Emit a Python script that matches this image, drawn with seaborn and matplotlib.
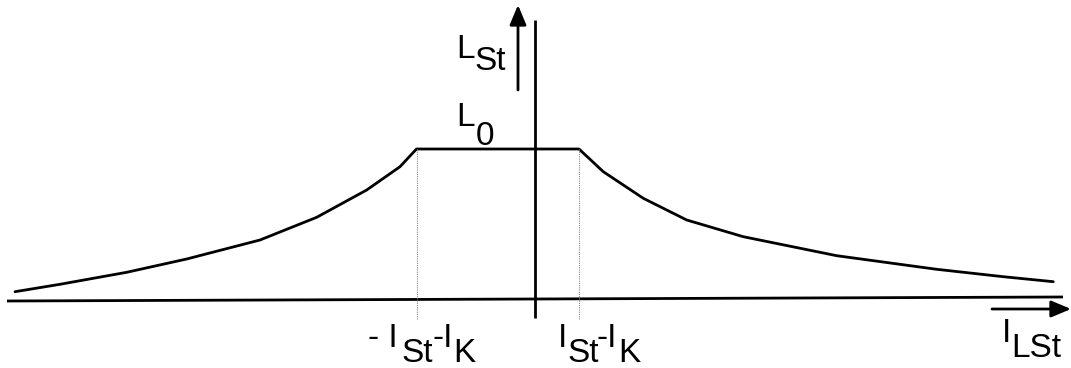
import matplotlib
matplotlib.use("Agg")
import matplotlib.pyplot as plt
import seaborn as sns
import pandas as pd

sns.set_theme(style="white")
plt.rcParams["font.family"] = ["Liberation Sans", "DejaVu Sans"]

# Inductance curve L_St(I_LSt), drawn in diagram units (x to the right, y downward)
curve_x = [15, 60, 126.7, 186.7, 260, 316.7, 366.7, 400, 416.5,
           579, 603.3, 643.3, 686.7, 743.3, 836.7, 936.7, 1003.3, 1053.3]
curve_y = [291.7, 284.3, 272.3, 259, 240, 217.3, 190, 166.7, 149,
           149, 171.7, 198.3, 220, 236.7, 255.7, 269.3, 276.7, 281.7]

# Knee positions (±(I_St - I_K)) and the plateau level L_0
knee_x = [416.5, 579]
plateau_y = 149
knee_bottom = 319

# Coordinate axes
h_axis_x = [7, 1063]
h_axis_y = [301, 297]
v_axis_x = [535, 535]
v_axis_y = [20, 318]

fig = plt.figure(figsize=(10.71, 3.68), dpi=100)
ax = fig.add_axes([0, 0, 1, 1])
ax.set_xlim(0, 1071)
ax.set_ylim(368, 0)
ax.axis("off")

df = pd.DataFrame({"x": curve_x, "y": curve_y})
sns.lineplot(data=df, x="x", y="y", sort=False, color="black", lw=2.0, ax=ax)

ax.plot(h_axis_x, h_axis_y, color="black", lw=2.0, solid_capstyle="butt")
ax.plot(v_axis_x, v_axis_y, color="black", lw=2.0, solid_capstyle="butt")

for kx in knee_x:
    ax.plot([kx, kx], [plateau_y, knee_bottom], color="#888888", lw=0.8,
            ls=(0, (1, 1)))

arrow = dict(arrowstyle="-|>,head_length=1.0,head_width=0.42", color="black",
             lw=2.0, shrinkA=0, shrinkB=0)
ax.annotate("", xy=(518, 5), xytext=(518, 90), arrowprops=arrow)
ax.annotate("", xy=(1071, 309), xytext=(992, 309), arrowprops=arrow)

fs = 24
def piece(x, y, s):
    ax.text(x, y, s, fontsize=fs, ha="left", va="baseline", color="black")

# L_St
piece(456, 58, "L")
piece(474, 70, "St")
# L_0
piece(456, 126, "L")
piece(476, 145, "0")
# - I_St - I_K
piece(368, 347, "- I")
piece(401, 362, "St")
piece(432, 347, "-I")
piece(453, 362, "K")
# I_St - I_K
piece(558, 347, "I")
piece(567, 362, "St")
piece(597, 347, "-I")
piece(618, 362, "K")
# I_LSt
piece(1002, 342, "I")
piece(1011, 357, "LSt")

fig.savefig("out.png", dpi=100)
